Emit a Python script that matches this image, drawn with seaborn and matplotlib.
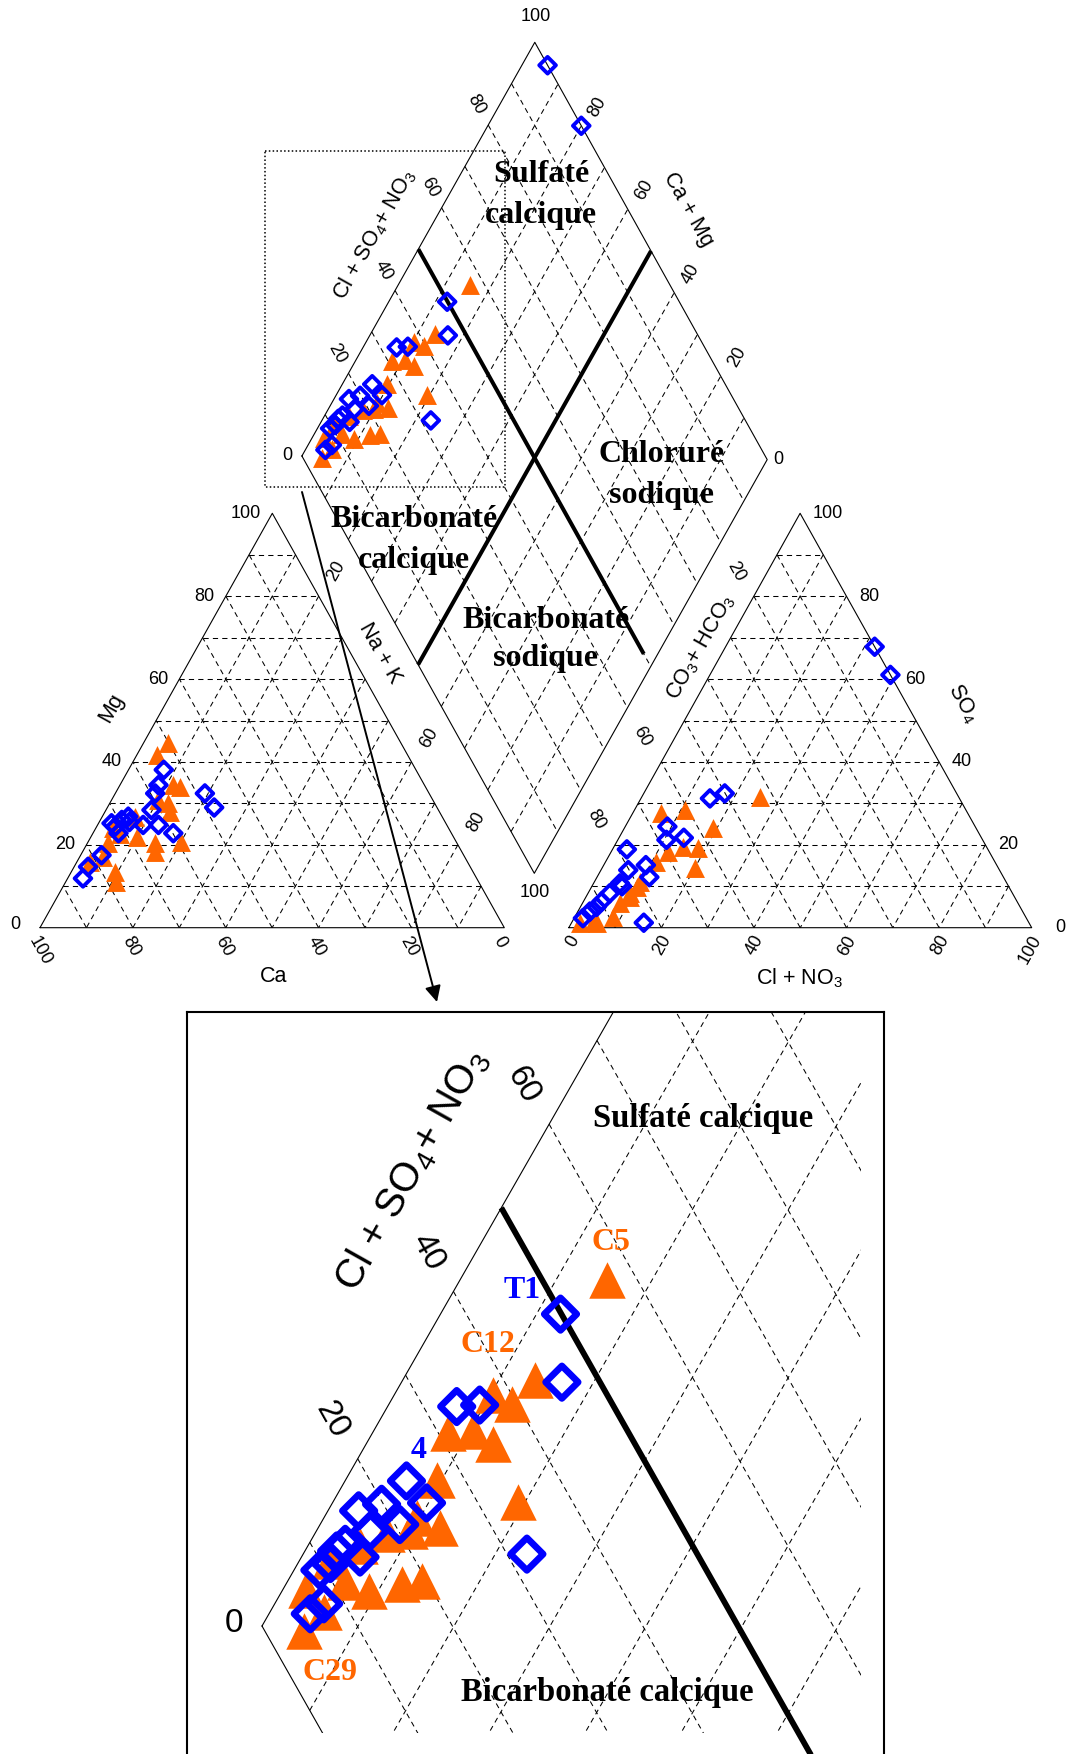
import numpy as np
import pandas as pd
import seaborn as sns
import matplotlib.pyplot as plt
from matplotlib.patches import Rectangle

sns.set_style('white')
plt.rcParams['font.family'] = ['Liberation Sans', 'DejaVu Sans']
plt.rcParams['mathtext.default'] = 'regular'
plt.rcParams['text.color'] = 'black'

ORANGE = '#ff6600'
BLUE = '#0000ff'

# ---------------- data (% meq) ----------------
# cation triangle (Ca, Mg ; Na+K = rest)
ca_C = [50.2, 54.0, 52.8, 54.1, 57.4, 58.0, 59.1, 68.2, 65.0, 66.1, 59.2, 77.1, 78.0, 75.1, 81.3, 72.2, 66.1, 71.5, 78.0]
mg_C = [44.5, 41.7, 34.0, 34.4, 30.0, 28.0, 30.8, 22.0, 20.4, 18.3, 20.8, 13.5, 11.1, 20.4, 15.9, 24.0, 26.8, 22.5, 17.0]
ca_T = [54.3, 57.3, 59.0, 61.8, 65.4, 62.1, 59.9, 48.3, 48.0, 78.0, 82.3, 84.8, 69.4, 71.6, 67.6, 71.7, 72.0, 68.0]
mg_T = [38.1, 34.4, 32.4, 28.4, 24.8, 24.8, 22.8, 32.4, 29.0, 17.5, 14.7, 11.9, 26.0, 24.4, 26.8, 22.8, 25.2, 25.5]

# anion triangle (Cl+NO3, SO4 ; CO3+HCO3 = rest)
cl_C = [25.5, 10.9, 6.1, 19.2, 18.4, 14.9, 12.3, 11.0, 20.1, 9.7, 9.4, 8.2, 1.9, 5.5, 9.9, 9.0, 8.1, 4.6]
so4_C = [31.6, 28.4, 27.6, 24.0, 19.2, 19.5, 18.3, 15.9, 14.3, 9.9, 7.5, 2.7, 1.1, 1.1, 11.1, 8.3, 5.9, 1.5]
cl_T = [17.5, 14.9, 9.1, 14.0, 10.5, 3.1, 9.1, 11.3, 5.9, 5.7, 4.7, 3.9, 2.6, 1.9, 15.6, 32.2, 39.0, 6.5, 3.5]
so4_T = [32.4, 31.2, 24.4, 21.7, 21.2, 18.9, 15.1, 12.2, 13.9, 10.7, 8.3, 6.3, 3.9, 2.3, 1.2, 67.8, 61.0, 10.0, 5.0]

# diamond (Cl+SO4+NO3, Na+K)
an_C = [56.8, 43.3, 39.5, 38.0, 31.0, 33.8, 35.1, 27.1, 34.3, 21.2, 22.7, 18.6, 19.5, 17.2, 13.3, 11.3, 6.8, 4.1, 7.3, 11.0, 15.0, 24.5]
nk_C = [15.3, 13.8, 12.8, 10.3, 7.9, 10.4, 13.2, 9.5, 19.3, 9.8, 9.7, 7.5, 14.0, 12.1, 9.0, 6.0, 2.5, 4.6, 5.6, 3.2, 5.4, 12.7]
an_T = [49.9, 46.0, 36.0, 33.5, 23.8, 24.6, 19.8, 17.0, 20.5, 17.0, 13.6, 14.4, 12.3, 9.4, 10.9, 7.8, 5.8, 32.1, 100.0, 100.0]
nk_T = [12.5, 16.7, 9.5, 7.2, 6.4, 9.8, 5.2, 3.2, 8.3, 5.6, 3.8, 6.1, 3.3, 2.7, 3.4, 5.1, 4.3, 23.3, 5.5, 20.0]

# labelled samples in the zoom (index in diamond arrays)
zoom_labels = [('C5', 'C', 0), ('C12', 'C', 1), ('C29', 'C', 17), ('T1', 'T', 0), ('4', 'T', 4)]

# ---------------- geometry (pixels) ----------------
LT_CA, LT_NA, LT_MG = np.array([40.0, 927.7]), np.array([504.3, 927.7]), np.array([272.3, 513.3])
RT_HC, RT_CL, RT_SO = np.array([568.8, 927.7]), np.array([1031.7, 927.7]), np.array([800.1, 513.3])
D_L, D_T, D_B = np.array([301.9, 456.0]), np.array([534.8, 42.3]), np.array([534.3, 873.3])
ROT = 60.7


def left_xy(ca, mg):
    ca = np.atleast_1d(np.asarray(ca, float))
    mg = np.atleast_1d(np.asarray(mg, float))
    p = (np.outer(ca, LT_CA) + np.outer(100 - ca - mg, LT_NA) + np.outer(mg, LT_MG)) / 100
    return p[:, 0], p[:, 1]


def right_xy(cl, so4):
    cl = np.atleast_1d(np.asarray(cl, float))
    so4 = np.atleast_1d(np.asarray(so4, float))
    p = (np.outer(100 - cl - so4, RT_HC) + np.outer(cl, RT_CL) + np.outer(so4, RT_SO)) / 100
    return p[:, 0], p[:, 1]


def dia_xy(an, nk):
    an = np.atleast_1d(np.asarray(an, float))
    nk = np.atleast_1d(np.asarray(nk, float))
    p = D_L + np.outer(an, D_T - D_L) / 100 + np.outer(nk, D_B - D_L) / 100
    return p[:, 0], p[:, 1]


DASH = dict(color='k', lw=0.75, ls=(0, (5, 4)))
EDGE = dict(color='k', lw=0.8)


def tri_frame(axis, A, B, C):
    for k in range(10, 100, 10):
        f = k / 100
        for P, Q, R in ((A, B, C), (B, C, A), (C, A, B)):
            p1 = P * f + Q * (1 - f)
            p2 = P * f + R * (1 - f)
            axis.plot([p1[0], p2[0]], [p1[1], p2[1]], **DASH)
    pts = np.array([A, B, C, A])
    axis.plot(pts[:, 0], pts[:, 1], **EDGE)


def dia_frame(axis, clip=None, thick=2.9, inset=False):
    arts = []
    for k in range(10, 100, 10):
        arts += axis.plot(*dia_xy([k, k], [0, 100]), **DASH)
        arts += axis.plot(*dia_xy([0, 100], [k, k]), **DASH)
    arts += axis.plot(*dia_xy([0, 100, 100, 0, 0], [0, 0, 100, 100, 0]), **EDGE)
    if clip is not None:
        for a in arts:
            a.set_clip_path(clip)
    axis.plot(*dia_xy([50, 50], [0, 97]), color='k', lw=thick, solid_capstyle='butt')
    if not inset:
        axis.plot(*dia_xy([100, 0], [50, 50]), color='k', lw=thick, solid_capstyle='butt')


def points(axis, x, y, kind, big=False):
    df = pd.DataFrame({'x': x, 'y': y})
    if kind == 'C':
        sns.scatterplot(data=df, x='x', y='y', ax=axis, marker='^', s=690 if big else 185,
                        color=ORANGE, edgecolor=ORANGE, linewidth=0, zorder=5, legend=False)
    else:
        sns.scatterplot(data=df, x='x', y='y', ax=axis, marker='D', s=275 if big else 72,
                        color=BLUE, facecolors='none', edgecolor=BLUE,
                        linewidth=4.8 if big else 2.8, zorder=6, legend=False)


def lab(axis, s, xy, off, rot=0, size=13, ha='center', va='center'):
    axis.annotate(s, xy=xy, xytext=off, textcoords='offset pixels', rotation=rot,
                  ha=ha, va=va, rotation_mode='anchor', fontsize=size, color='k')


fig = plt.figure(figsize=(10.67, 17.54), dpi=100)
ax = fig.add_axes([0, 0, 1, 1])
ax.set_xlim(0, 1067)
ax.set_ylim(1754, 0)
ax.axis('off')

# ---------------- frames ----------------
tri_frame(ax, LT_CA, LT_NA, LT_MG)
tri_frame(ax, RT_HC, RT_CL, RT_SO)
dia_frame(ax)

# ---------------- points ----------------
points(ax, *left_xy(ca_C, mg_C), 'C')
points(ax, *left_xy(ca_T, mg_T), 'T')
points(ax, *right_xy(cl_C, so4_C), 'C')
points(ax, *right_xy(cl_T, so4_T), 'T')
points(ax, *dia_xy(an_C, nk_C), 'C')
points(ax, *dia_xy(an_T, nk_T), 'T')

# ---------------- tick labels ----------------
for v in range(0, 101, 20):
    x, y = left_xy(v, 0)
    lab(ax, str(v), (x[0], y[0]), (-7, -10), rot=-ROT, ha='left')
    x, y = left_xy(100 - v, v)
    lab(ax, str(v), (x[0], y[0]), (-20, 3) if v == 0 else (-11, 0), ha='right')
    x, y = right_xy(v, 0)
    lab(ax, str(v), (x[0], y[0]), (6, -9), rot=ROT, ha='right')
    x, y = right_xy(100 - v, v)
    lab(ax, str(v), (x[0], y[0]), (24, 0) if v == 0 else (12.5, 0), ha='left')

for v in (20, 40, 60, 80):
    x, y = dia_xy(v, 0)
    lab(ax, str(v), (x[0], y[0]), (-12, 20), rot=-ROT)
    x, y = dia_xy(100, 100 - v)
    lab(ax, str(v), (x[0], y[0]), (16, 19), rot=ROT)
for v in (20, 60, 80):
    x, y = dia_xy(0, v)
    lab(ax, str(v), (x[0], y[0]), (-12, -32), rot=ROT)
    x, y = dia_xy(100 - v, 100)
    lab(ax, str(v), (x[0], y[0]), (15, -29), rot=-ROT)
lab(ax, '0', tuple(D_L), (-15, 0))
lab(ax, '100', tuple(D_T), (1, 26))
rx, ry = dia_xy(100, 100)
lab(ax, '0', (rx[0], ry[0]), (11, 0))
lab(ax, '100', tuple(D_B), (0, -19))

# ---------------- axis titles ----------------
TS = 15.5
TXT = dict(fontsize=TS, ha='center', va='center', rotation_mode='anchor', color='k')
ax.text(374.5, 235, 'Cl + SO$_4$+ NO$_3$', rotation=ROT, **TXT)
ax.text(688.4, 210, 'Ca + Mg', rotation=-ROT, **TXT)
ax.text(380, 653, 'Na + K', rotation=-ROT, **TXT)
ax.text(701.4, 646.7, 'CO$_3$+ HCO$_3$', rotation=ROT, **TXT)
ax.text(111.7, 708.3, 'Mg', rotation=ROT, **TXT)
ax.text(274, 976.7, 'Ca', **TXT)
ax.text(799, 978, 'Cl + NO$_3$', **TXT)
ax.text(963, 703.3, 'SO$_4$', rotation=-ROT, **TXT)

# ---------------- facies names ----------------
SERIF = dict(family=['Liberation Serif', 'DejaVu Serif'], weight='bold', fontsize=23,
             ha='center', va='baseline', color='k')
for (x, y1, y2, w1, w2) in [(541, 182, 223, 'Sulfaté', 'calcique'),
                            (662, 461.7, 503, 'Chloruré', 'sodique'),
                            (414, 526.7, 568, 'Bicarbonaté', 'calcique'),
                            (545.8, 628.3, 666, 'Bicarbonaté', 'sodique')]:
    ax.text(x, y1, w1, zorder=8, **SERIF)
    ax.text(x, y2, w2, zorder=8, **SERIF)

# zoom frame and arrow
ax.add_patch(Rectangle((264.5, 150.7), 240.5, 336, fill=False, ls=(0, (1, 1.5)), lw=1.1, color='k'))
ax.annotate('', xy=(437, 1002), xytext=(302, 492),
            arrowprops=dict(arrowstyle='-|>', lw=1.4, color='k', mutation_scale=24, shrinkA=0, shrinkB=0))

# ---------------- inset ----------------
axin = fig.add_axes([187 / 1067, 0, 697 / 1067, 742 / 1754])
axin.set_xlim(265.4, 604.6)
axin.set_ylim(519.3, 152.3)
axin.set_xticks([])
axin.set_yticks([])
for side in ('left', 'top', 'right'):
    axin.spines[side].set_linewidth(1.5)
    axin.spines[side].set_color('k')
axin.spines['bottom'].set_visible(False)

clip = Rectangle((265.4, 152.3), 593.2 - 265.4, 508.9 - 152.3, transform=axin.transData)
dia_frame(axin, clip=clip, thick=4.2, inset=True)
points(axin, *dia_xy(an_C, nk_C), 'C', big=True)
points(axin, *dia_xy(an_T, nk_T), 'T', big=True)
axin.set_xlabel('')
axin.set_ylabel('')


def inset_xy(px, py):
    return D_L[0] + (px - 262) / 2.055, D_L[1] + (py - 1626) / 2.022


for v in (20, 40, 60):
    x, y = dia_xy(v, 0)
    lab(axin, str(v), (x[0], y[0]), (-26, 39), rot=-ROT, size=24)
lab(axin, '0', tuple(D_L), (-28, 3), size=24)
axin.text(*inset_xy(412, 1170), 'Cl + SO$_4$+ NO$_3$', rotation=ROT, fontsize=29,
          ha='center', va='center', rotation_mode='anchor', color='k')
SERIF2 = dict(SERIF, fontsize=23.5)
axin.text(*inset_xy(703, 1127), 'Sulfaté calcique', **SERIF2)
axin.text(*inset_xy(607, 1701), 'Bicarbonaté calcique', **SERIF2)

offs = {'C5': (4, 38), 'C12': (-47, 36), 'C29': (26, -42), 'T1': (-38, 24), '4': (12, 30)}
for name, kind, i in zoom_labels:
    if kind == 'C':
        x, y = dia_xy(an_C[i], nk_C[i])
        col = ORANGE
    else:
        x, y = dia_xy(an_T[i], nk_T[i])
        col = BLUE
    axin.annotate(name, xy=(x[0], y[0]), xytext=offs[name], textcoords='offset pixels',
                  ha='center', va='center', color=col, fontsize=23,
                  family=['Liberation Serif', 'DejaVu Serif'], weight='bold', zorder=9)

fig.savefig('out.png', dpi=100)
